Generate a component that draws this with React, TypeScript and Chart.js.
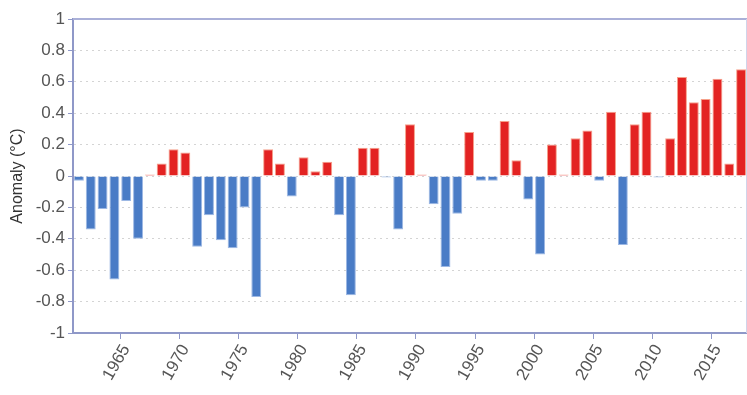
import React, { useEffect, useRef } from "react";
import { Chart, registerables } from "chart.js";

Chart.register(...registerables);

const years: string[] = [];
for (let y = 1961; y <= 2017; y++) years.push(String(y));

const anomalies: number[] = [
  -0.03, -0.34, -0.21, -0.66, -0.16, -0.40, 0.01, 0.08, 0.17, 0.15,
  -0.45, -0.25, -0.41, -0.46, -0.20, -0.77, 0.17, 0.08, -0.13, 0.12,
  0.03, 0.09, -0.25, -0.76, 0.18, 0.18, -0.01, -0.34, 0.33, 0.01,
  -0.18, -0.58, -0.24, 0.28, -0.03, -0.03, 0.35, 0.10, -0.15, -0.50,
  0.20, 0.01, 0.24, 0.29, -0.03, 0.41, -0.44, 0.33, 0.41, -0.01,
  0.24, 0.63, 0.47, 0.49, 0.62, 0.08, 0.68,
];

const yTicks: number[] = [-1, -0.8, -0.6, -0.4, -0.2, 0, 0.2, 0.4, 0.6, 0.8, 1];
const labelYears: number[] = [1965, 1970, 1975, 1980, 1985, 1990, 1995, 2000, 2005, 2010, 2015];

const RED = "#e32322";
const BLUE = "#4a7cc6";

export default function App() {
  const ref = useRef<HTMLCanvasElement | null>(null);
  useEffect(() => {
    document.body.style.margin = "0";
    if (!ref.current) return;
    const frame = {
      id: "frame",
      afterDraw(c: any) {
        const { ctx, chartArea: a } = c;
        ctx.save();
        ctx.strokeStyle = "#aab0d8";
        ctx.lineWidth = 2;
        ctx.beginPath();
        ctx.moveTo(a.left, a.top);
        ctx.lineTo(a.right, a.top);
        ctx.stroke();
        ctx.strokeStyle = "#d0d4ea";
        ctx.lineWidth = 1;
        ctx.beginPath();
        ctx.moveTo(a.right - 0.5, a.top);
        ctx.lineTo(a.right - 0.5, a.bottom);
        ctx.stroke();
        ctx.restore();
      },
    };
    const chart = new Chart(ref.current, {
      type: "bar",
      data: {
        labels: years,
        datasets: [
          {
            data: anomalies,
            backgroundColor: anomalies.map((v) => (v >= 0 ? RED : BLUE)),
            borderColor: anomalies.map((v) => (v >= 0 ? "#f6a08a" : "#9db8e4")),
            borderWidth: 1,
            barPercentage: 0.84,
            categoryPercentage: 1,
          },
        ],
      },
      options: {
        animation: false,
        responsive: false,
        maintainAspectRatio: false,
        layout: { padding: { top: 19, right: 0, left: 0, bottom: 0 } },
        plugins: { legend: { display: false }, tooltip: { enabled: false } },
        scales: {
          x: {
            grid: {
              drawOnChartArea: false,
              tickLength: 6,
              color: (ctx: any) =>
                ctx.tick && labelYears.includes(Number(years[ctx.index])) ? "#8f98c8" : "rgba(0,0,0,0)",
            },
            border: { color: "#8f98c8", width: 2 },
            ticks: {
              autoSkip: false,
              maxRotation: 60,
              minRotation: 60,
              color: "#555",
              font: { family: "Liberation Sans", size: 17 },
              padding: 2,
              callback: (_v: any, i: number) =>
                labelYears.includes(Number(years[i])) ? years[i] : "",
            },
            afterFit: (s: any) => {
              s.height = 62;
              s.paddingRight = 0;
              s.paddingLeft = 0;
            },
          },
          y: {
            min: -1,
            max: 1,
            afterBuildTicks: (s: any) => {
              s.ticks = yTicks.map((v) => ({ value: v }));
            },
            grid: {
              color: "#d4d4d4",
              tickLength: 5,
              tickColor: "#8f98c8",
              tickBorderDash: [],
            },
            border: { color: "#8f98c8", width: 2, dash: [2, 4] as any },
            ticks: {
              color: "#555",
              font: { family: "Liberation Sans", size: 17 },
              padding: 3,
              callback: (v: any) => String(Math.round(Number(v) * 10) / 10),
            },
            title: {
              display: true,
              text: "Anomaly (°C)",
              color: "#333",
              font: { family: "Liberation Sans", size: 16 },
              padding: { top: 8, bottom: 4 },
            },
            afterFit: (s: any) => {
              s.width = 73;
            },
          },
        },
      },
      plugins: [frame],
    } as any);
    return () => chart.destroy();
  }, []);
  return (
    <div style={{ width: 747, height: 395, background: "#fff" }}>
      <canvas ref={ref} width={747} height={395} />
    </div>
  );
}
